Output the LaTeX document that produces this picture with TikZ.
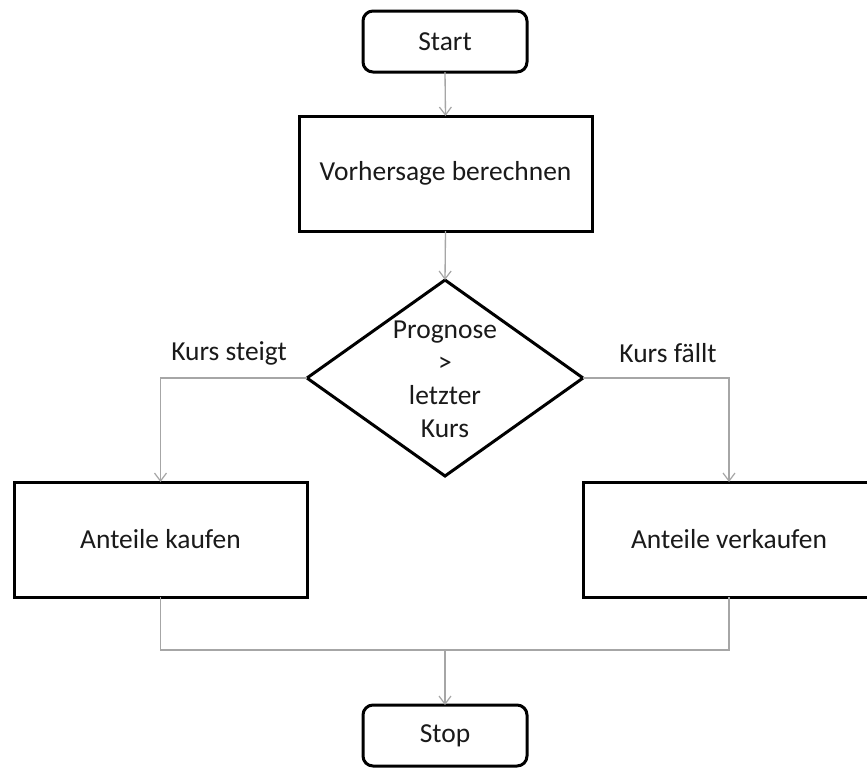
\documentclass[tikz,border=0pt]{standalone}
\usepackage{fontspec}
\setmainfont{Carlito}
\usetikzlibrary{shapes.geometric,arrows.meta}
\definecolor{conngray}{HTML}{A6A6A6}
\definecolor{txtcol}{HTML}{1A1A1A}
\tikzset{
  boxstyle/.style={draw=black, line width=2.25pt, fill=white, rectangle, inner sep=0pt, outer sep=0pt, text=txtcol, font=\fontsize{20.6}{24}\selectfont},
  roundbox/.style={boxstyle, rounded corners=7.5pt},
  decstyle/.style={draw=black, line width=2.25pt, diamond, aspect=1.408, inner sep=0pt, outer sep=0pt, minimum width=276*0.75pt, minimum height=196*0.75pt},
  txt/.style={font=\fontsize{20.6}{24.75}\selectfont, text=txtcol, align=center, inner sep=0pt},
  conn/.style={draw=conngray, line width=1pt},
  arr/.style={conn, -{Straight Barb[length=6pt, width=9pt, line width=0.9pt]}},
}
\begin{document}
\begin{tikzpicture}[x=0.75pt, y=-0.75pt]
\useasboundingbox (0,0) rectangle (867,769);
\clip (0,0) rectangle (867,769);
\fill[white] (0,0) rectangle (867,769);

\node[roundbox, minimum width=164*0.75pt, minimum height=61*0.75pt] (start) at (445,41.5) {Start};
\node[boxstyle, minimum width=293*0.75pt, minimum height=115*0.75pt] (calc) at (445.5,173.5) {Vorhersage berechnen};
\node[decstyle] (dec) at (445,378) {};
\node[txt] (dectext) at (445,379) {Prognose\\ >\\ letzter\\ Kurs};
\node[boxstyle, minimum width=293*0.75pt, minimum height=115*0.75pt] (buy) at (160.5,539.5) {Anteile kaufen};
\node[boxstyle, minimum width=292*0.75pt, minimum height=115*0.75pt] (sell) at (729,539.5) {Anteile verkaufen};
\node[roundbox, minimum width=164*0.75pt, minimum height=61*0.75pt] (stop) at (445,735.5) {Stop};

\node[txt] (lblbuy) at (229,353) {Kurs steigt};
\node[txt] (lblsell) at (668,353) {Kurs fällt};

\coordinate (join) at (445,650);

\draw[arr] (start.south) -- (calc.north);
\draw[arr] (calc.south) -- (dec.north);
\draw[arr] (dec.west) -| (buy.north);
\draw[arr] (dec.east) -| (sell.north);
\draw[conn] (buy.south) |- (join) -| (sell.south);
\draw[arr] (join) -- (stop.north);
\end{tikzpicture}
\end{document}
